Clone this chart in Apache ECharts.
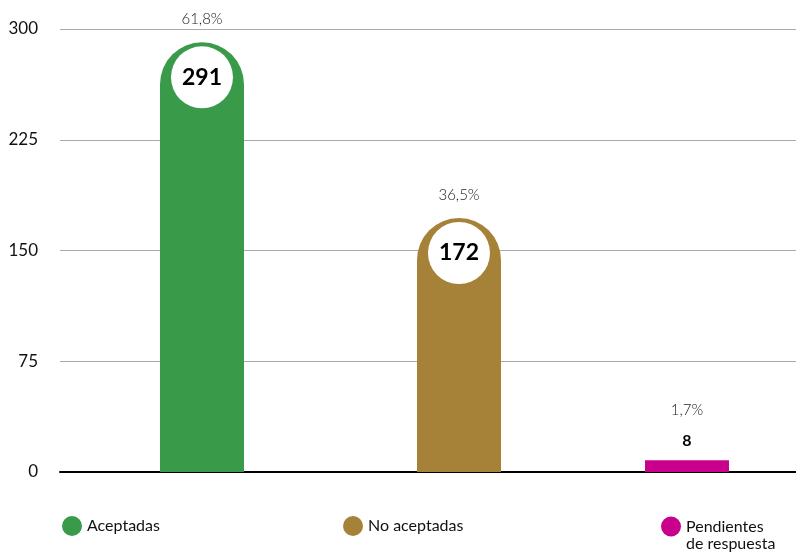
<!DOCTYPE html>
<html>
<head>
<meta charset="utf-8">
<script src="https://cdn.jsdelivr.net/npm/echarts@6/dist/echarts.min.js"></script>
<style>html,body{margin:0;padding:0;background:#fff;}#c{width:796px;height:552px;}</style>
</head>
<body>
<div id="c"></div>
<script>
var categories = ['Aceptadas', 'No aceptadas', 'Pendientes de respuesta'];
var values = [291, 172, 8];
var pctLabels = ['61,8%', '36,5%', '1,7%'];
var yTicks = [0, 75, 150, 225, 300];
var colors = ['#399a4a', '#a68238', '#c8008c'];

var FONT = 'Lato, "Open Sans", sans-serif';
var chart = echarts.init(document.getElementById('c'), null, {renderer: 'canvas'});

var bigLabel = {
  position: 'insideTop', distance: 0, offset: [0, -50],
  rich: {
    p: { lineHeight: 54, fontSize: 15, color: '#222', fontWeight: 300, fontFamily: FONT, align: 'center' },
    circ: { width: 62, height: 62, lineHeight: 62, borderRadius: 31, backgroundColor: '#fff', align: 'center', fontSize: 23, fontWeight: 'bold', color: '#000', fontFamily: FONT }
  }
};
var smallLabel = {
  position: 'top', distance: 9,
  rich: {
    p: { lineHeight: 42, fontSize: 15, color: '#222', fontWeight: 300, fontFamily: FONT, align: 'center' },
    v: { lineHeight: 20, fontSize: 16, fontWeight: 'bold', color: '#000', fontFamily: FONT, align: 'center' }
  }
};

var series = categories.map(function (name, i) {
  var big = values[i] > 30;
  var data = categories.map(function (_, j) {
    if (j !== i) return '-';
    return {
      value: values[j],
      itemStyle: { borderRadius: big ? [42, 42, 0, 0] : 0 },
      label: big ? bigLabel : smallLabel
    };
  });
  return {
    name: name, type: 'bar', stack: big ? 'main' : 'pend', xAxisIndex: 1, yAxisIndex: 1,
    barWidth: 84, barGap: '-134.5%', itemStyle: { color: colors[i] },
    label: {
      show: true,
      formatter: function (p) {
        return big ? '{p|' + pctLabels[p.dataIndex] + '}\n{circ|' + p.value + '}'
                   : '{p|' + pctLabels[p.dataIndex] + '}\n{v|' + p.value + '}';
      }
    },
    data: data, z: 3
  };
});

function legendFor(i, left, top) {
  return {
    data: [categories[i]], left: left, top: top, padding: 0,
    icon: 'circle', itemWidth: 20, itemHeight: 20, itemGap: 0,
    textStyle: { fontSize: 16, color: '#111', fontFamily: FONT, lineHeight: 17 },
    formatter: function (n) { return n === 'Pendientes de respuesta' ? ' \nPendientes\nde respuesta' : n; }
  };
}

chart.setOption({
  animation: false,
  backgroundColor: '#fff',
  textStyle: { fontFamily: FONT },
  grid: [
    { left: 60, right: 0, top: 29, bottom: 80 },
    { left: 59, width: 771, top: 29, bottom: 80, outerBoundsMode: 'none' }
  ],
  xAxis: [
    { gridIndex: 0, type: 'value', min: 0, max: 1, axisLabel: { show: false }, axisTick: { show: false }, splitLine: { show: false },
      axisLine: { show: true, lineStyle: { color: '#000', width: 2 } } },
    { gridIndex: 1, type: 'category', data: categories, show: false }
  ],
  yAxis: [
    { gridIndex: 0, type: 'value', min: yTicks[0], max: yTicks[yTicks.length - 1], interval: yTicks[1] - yTicks[0],
      axisLine: { show: false }, axisTick: { show: false },
      axisLabel: { fontSize: 17, color: '#111', margin: 22, fontFamily: FONT },
      splitLine: { lineStyle: { color: '#aaa', width: 1 } } },
    { gridIndex: 1, type: 'value', min: yTicks[0], max: yTicks[yTicks.length - 1], show: false }
  ],
  legend: [legendFor(0, 62, 516), legendFor(1, 343, 516), legendFor(2, 661, 501)],
  series: series
});
</script>
</body>
</html>
